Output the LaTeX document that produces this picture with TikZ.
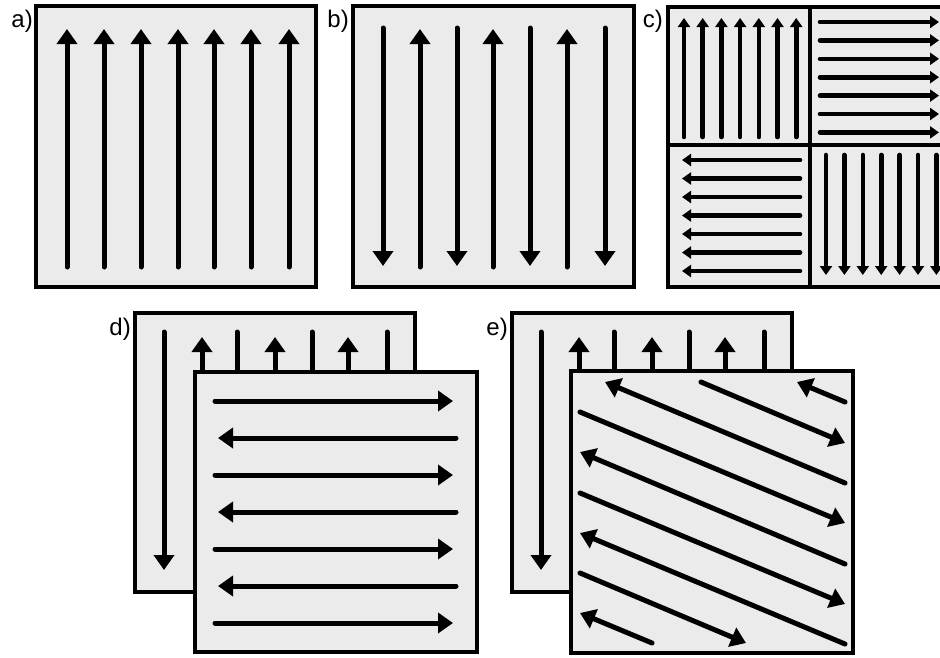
\documentclass[tikz,border=0pt]{standalone}
\usepackage{fontspec}
\setmainfont{Liberation Sans}
\usepackage{tikz}
\usetikzlibrary{arrows.meta}
\definecolor{panelfill}{HTML}{EBEBEB}

\begin{document}
\begin{tikzpicture}[
    x=1pt, y=-1pt,
    panel/.style={draw=black, line width=4pt, fill=panelfill},
    flow/.style={line width=5pt, line cap=round, -{Triangle[length=15pt, width=20pt]}},
    smallflow/.style={line width=4.6pt, line cap=round, -{Triangle[length=9pt, width=12pt]}},
    plain/.style={line width=5pt, line cap=round},
    lbl/.style={anchor=base east, inner sep=0pt, font=\fontsize{24}{24}\selectfont},
]
    \useasboundingbox (0,0) rectangle (940,657);
    \clip (0,0) rectangle (940,657);

    % Labels
    \node[lbl] (la) at (33,27) {a)};
    \node[lbl] (lb) at (349,27) {b)};
    \node[lbl] (lc) at (663,27) {c)};
    \node[lbl] (ld) at (131,335) {d)};
    \node[lbl] (le) at (508,335) {e)};

    % a) all upwards
    \draw[panel] (36,6) rectangle (316,287);
    \foreach \x in {67,104,141,178,214,251,289}
        \draw[flow] (\x,267) -- (\x,29);

    % b) alternating
    \draw[panel] (353,6) rectangle (634,287);
    \foreach \x in {383,457,530,605}
        \draw[flow] (\x,28) -- (\x,266);
    \foreach \x in {420,493,567}
        \draw[flow] (\x,267) -- (\x,29);

    % c) four quadrants
    \draw[panel] (668,7) rectangle (958,287);
    \draw[line width=4pt] (810,7) -- (810,287) (668,145) -- (958,145);
    \foreach \i in {0,...,6} {
        \draw[smallflow] ({684+18.7*\i},137) -- ({684+18.7*\i},18);
        \draw[smallflow] (820,{22+18.4*\i}) -- (939,{22+18.4*\i});
        \draw[smallflow] (800,{160+18.5*\i}) -- (682,{160+18.5*\i});
        \draw[smallflow] ({826+18.4*\i},155) -- ({826+18.4*\i},275);
    }

    % d) and e) back layers
    \foreach \ox in {0,377} {
        \begin{scope}[shift={(\ox,0)}]
            \draw[panel] (135,313) rectangle (415,592);
            \draw[flow] (164,332) -- (164,570);
            \foreach \x in {202,275,348}
                \draw[flow] (\x,400) -- (\x,337);
            \foreach \x in {237,312,387}
                \draw[plain] (\x,332) -- (\x,400);
        \end{scope}
    }

    % d) front layer, horizontal
    \draw[panel] (195,372) rectangle (477,652);
    \foreach \y in {401,475,549,623}
        \draw[flow] (215,\y) -- (453,\y);
    \foreach \y in {438,512,586}
        \draw[flow] (456,\y) -- (218,\y);

    % e) front layer, diagonal
    \draw[panel] (571,371) rectangle (853,653);
    \foreach \xa/\ya/\xb/\yb in {845/402/797/382, 701/382/845/443, 845/483/605/382,
                                 580/412/845/523, 845/564/580/452, 580/493/845/604,
                                 845/644/580/533, 580/573/746/643, 652/643/580/613}
        \draw[flow] (\xa,\ya) -- (\xb,\yb);
\end{tikzpicture}
\end{document}
